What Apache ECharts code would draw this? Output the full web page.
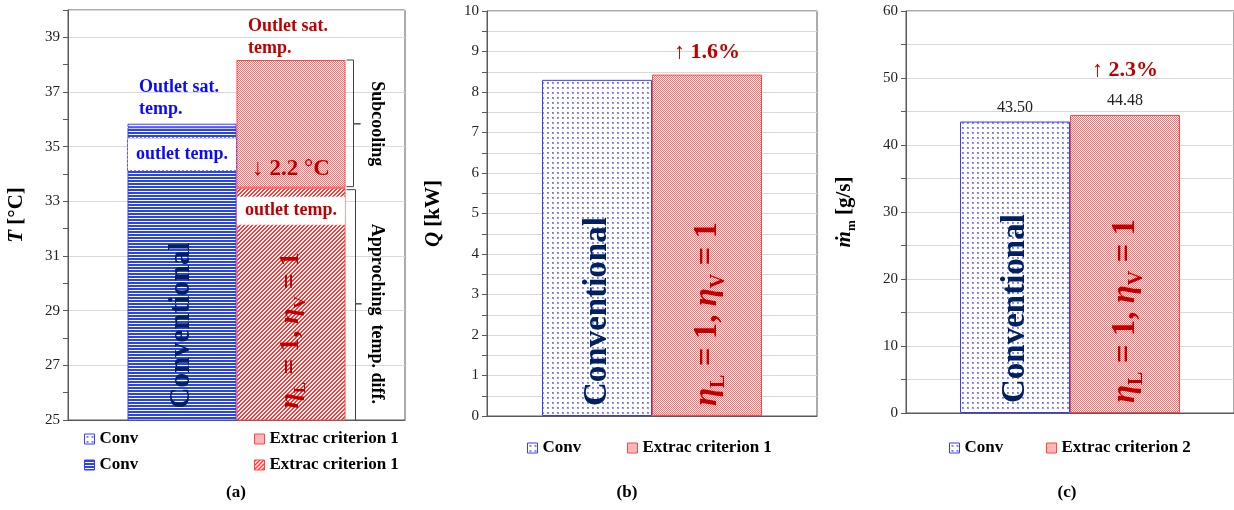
<!DOCTYPE html>
<html><head><meta charset="utf-8">
<script src="https://cdn.jsdelivr.net/npm/echarts@6/dist/echarts.min.js"></script>
<style>html,body{margin:0;padding:0;background:#fff}#c{width:1234px;height:510px}</style>
</head><body><div id="c"></div>
<script>
// ---------- data ----------
const categories = ['case'];
const legendA = ['Conv', 'Extrac criterion 1'];
const legendB = ['Conv', 'Extrac criterion 1'];
const legendC = ['Conv', 'Extrac criterion 2'];
const satTempA = [35.84, 38.17];      // outlet saturation temperature [°C]
const outletTempA = [35.71, 33.50];   // outlet temperature [°C]
const heatQ = [8.30, 8.43];           // Q [kW]
const massFlow = [43.50, 44.48];      // m [g/s]
const yTicksA = [25, 40, 2];
const yTicksB = [0, 10, 0.5];
const yTicksC = [0, 60, 5];
const barLabels = ['Conventional', 'ηL = 1, ηV = 1'];
const notesA = ['Outlet sat.\ntemp.', 'outlet temp.', '↓ 2.2 °C', 'Subcooling', 'Approching  temp. diff.'];
const changeB = '↑ 1.6%';
const changeC = '↑ 2.3%';
const captions = ['(a)', '(b)', '(c)'];

// ---------- styles ----------
const SERIF = '"Liberation Serif", "Times New Roman", serif';
const NAVY = '#002060', DRED = '#c00000', BLUE = '#0a0aff';
const BW_A = 109, BW_B = 110, BW_C = 110;

function pat(w, h, fn) {
  const c = document.createElement('canvas'); c.width = w; c.height = h;
  const g = c.getContext('2d'); g.fillStyle = '#fff'; g.fillRect(0, 0, w, h); fn(g);
  return { image: c, repeat: 'repeat' };
}
const P_BLUE_DOT = pat(5, 5, g => { g.fillStyle = '#9090ff'; g.fillRect(2, 2, 2, 2); g.fillStyle = '#6a6aff'; g.fillRect(2, 2, 1, 1); });
const P_RED_CHK = pat(2, 2, g => { g.fillStyle = '#ff7070'; g.fillRect(0, 0, 1, 1); g.fillRect(1, 1, 1, 1); });
const P_BLUE_STR = pat(4, 3, g => { g.fillStyle = '#2a45e6'; g.fillRect(0, 0, 4, 2); });
const P_RED_DIAG = pat(4, 4, g => { g.fillStyle = '#ff3838';
  for (let x = 0; x < 4; x++) for (let y = 0; y < 4; y++) if ((x + y) % 4 < 2) g.fillRect(x, y, 1, 1); });

const BLUE_BORDER = '#3b3bff', RED_BORDER = '#ff4545';

function yAxisBase(extra) {
  return Object.assign({
    type: 'value',
    axisLine: { show: true, lineStyle: { color: '#595959', width: 1 } },
    axisTick: { show: true, inside: false, length: 5, lineStyle: { color: '#595959' } },
    axisLabel: { color: '#222', fontFamily: SERIF, fontSize: 15, margin: 8 },
    splitLine: { show: true, lineStyle: { color: '#d9d9d9', width: 1 } },
    nameLocation: 'middle', nameRotate: 90
  }, extra);
}
function xAxisBase(gi) {
  return { type: 'category', gridIndex: gi, data: categories,
    axisLine: { show: true, lineStyle: { color: '#595959', width: 1 } },
    axisTick: { show: false }, axisLabel: { show: false }, splitLine: { show: false } };
}
function bar(o) {
  return Object.assign({ type: 'bar', barGap: '0%', stackStrategy: 'all', silent: true,
    emphasis: { disabled: true } }, o);
}
function bold(size, color, extra) {
  return Object.assign({ show: true, fontFamily: SERIF, fontWeight: 'bold', fontSize: size, color: color }, extra || {});
}
function etaLabel(F, dist) {
  const sub = Math.round(F * 0.62);
  const base = { fontFamily: SERIF, fontWeight: 'bold', color: DRED };
  return {
    show: true, position: 'insideBottom', rotate: 90, align: 'left', verticalAlign: 'middle', distance: dist,
    formatter: '{e|η}{s|L}{n| = 1, }{e|η}{s|V}{n| = 1}',
    rich: {
      e: Object.assign({ fontStyle: 'italic', fontSize: F, lineHeight: Math.round(F * 1.3) }, base),
      s: Object.assign({ fontSize: sub, lineHeight: sub, verticalAlign: 'bottom' }, base),
      n: Object.assign({ fontSize: F, lineHeight: Math.round(F * 1.3) }, base)
    }
  };
}
function convLabel(F, dist) {
  return bold(F, NAVY, { position: 'insideBottom', rotate: 90, align: 'left', verticalAlign: 'middle',
    distance: dist, formatter: barLabels[0] });
}
function satLabel(color, dist) {
  const lines = notesA[0].split('\n');
  return { show: true, position: 'top', distance: dist,
    formatter: lines.map(l => '{t|' + l + '}').join('\n'),
    rich: { t: { width: 86, align: 'left', fontFamily: SERIF, fontWeight: 'bold', fontSize: 18, lineHeight: 22, color: color } } };
}
const nA = [legendA[0], legendA[1], legendA[0] + ' ', legendA[1] + ' '];
const nB = [legendB[0] + '  ', legendB[1] + '  '];
const nC = [legendC[0] + '   ', legendC[1]];
const transparent = { color: 'rgba(0,0,0,0)' };

const series = [
  // ----- panel (a) -----
  bar({ name: nA[2], xAxisIndex: 0, yAxisIndex: 0, stack: 'ca', barWidth: BW_A, data: [outletTempA[0]],
    itemStyle: { color: P_BLUE_STR, borderColor: BLUE_BORDER, borderWidth: 1 }, label: convLabel(29, 12) }),
  bar({ name: 'lblA1', xAxisIndex: 0, yAxisIndex: 0, stack: 'ca', barWidth: BW_A, data: [0], itemStyle: transparent,
    label: bold(18, BLUE, { position: 'bottom', distance: 11, formatter: notesA[1], backgroundColor: '#fff',
      width: BW_A - 9, align: 'center', padding: [7, 4, 7, 4], borderColor: '#4455ff', borderWidth: 1, borderType: 'dotted' }) }),
  bar({ name: nA[0], xAxisIndex: 0, yAxisIndex: 0, stack: 'ca', barWidth: BW_A, data: [+(satTempA[0] - outletTempA[0]).toFixed(3)],
    itemStyle: { color: P_BLUE_DOT, borderColor: BLUE_BORDER, borderWidth: 1 } }),
  bar({ name: 'lblA2', xAxisIndex: 0, yAxisIndex: 0, stack: 'ca', barWidth: BW_A, data: [0], itemStyle: transparent,
    label: satLabel(BLUE, 3) }),

  bar({ name: nA[3], xAxisIndex: 0, yAxisIndex: 0, stack: 'ea', barWidth: BW_A, data: [outletTempA[1]],
    itemStyle: { color: P_RED_DIAG, borderColor: RED_BORDER, borderWidth: 1 }, label: etaLabel(28, 12) }),
  bar({ name: 'lblA3', xAxisIndex: 0, yAxisIndex: 0, stack: 'ea', barWidth: BW_A, data: [0], itemStyle: transparent,
    label: bold(18, DRED, { position: 'bottom', distance: 9, formatter: notesA[1], backgroundColor: '#fff',
      width: BW_A - 9, align: 'center', padding: [5, 4, 5, 4] }) }),
  bar({ name: nA[1], xAxisIndex: 0, yAxisIndex: 0, stack: 'ea', barWidth: BW_A, data: [+(satTempA[1] - outletTempA[1]).toFixed(3)],
    itemStyle: { color: P_RED_CHK, borderColor: RED_BORDER, borderWidth: 1 },
    label: bold(23, DRED, { position: 'insideBottom', distance: 7, formatter: notesA[2] }) }),
  bar({ name: 'lblA4', xAxisIndex: 0, yAxisIndex: 0, stack: 'ea', barWidth: BW_A, data: [0], itemStyle: transparent,
    label: satLabel(DRED, 1) }),
  {
    type: 'custom', xAxisIndex: 0, yAxisIndex: 0, silent: true, clip: false,
    data: [[0, satTempA[1], outletTempA[1], yTicksA[0]]],
    renderItem: function (params, api) {
      const top = api.coord([api.value(0), api.value(1)]);
      const y1 = top[1];
      const y2 = api.coord([api.value(0), api.value(2)])[1];
      const y3 = api.coord([api.value(0), api.value(3)])[1];
      const xb = top[0] + BW_A + 8;
      const m1 = (y1 + y2) / 2, m2 = (y2 + y3) / 2;
      const ls = { stroke: '#404040', lineWidth: 1, fill: null };
      const ts = (t) => ({ text: t, fontFamily: SERIF, fontWeight: 'bold', fontSize: 18, fill: '#000', align: 'center', verticalAlign: 'middle' });
      return { type: 'group', children: [
        { type: 'polyline', shape: { points: [[xb - 7, y1], [xb, y1], [xb, m1], [xb + 7, m1], [xb, m1], [xb, y2 - 1], [xb - 7, y2 - 1]] }, style: ls },
        { type: 'polyline', shape: { points: [[xb - 7, y2 + 2], [xb + 2, y2 + 2], [xb + 2, m2], [xb + 8, m2], [xb + 2, m2], [xb + 2, y3]] }, style: ls },
        { type: 'text', x: xb + 23, y: m1, rotation: -Math.PI / 2, style: ts(notesA[3]) },
        { type: 'text', x: xb + 23, y: m2 + 10, rotation: -Math.PI / 2, style: ts(notesA[4]) }
      ] };
    }
  },

  // ----- panel (b) -----
  bar({ name: nB[0], xAxisIndex: 1, yAxisIndex: 2, stack: 'cb', barWidth: BW_B, data: [heatQ[0]],
    itemStyle: { color: P_BLUE_DOT, borderColor: BLUE_BORDER, borderWidth: 1 }, label: convLabel(33, 10) }),
  bar({ name: nB[1], xAxisIndex: 1, yAxisIndex: 2, stack: 'eb', barWidth: BW_B, data: [heatQ[1]],
    itemStyle: { color: P_RED_CHK, borderColor: RED_BORDER, borderWidth: 1 }, label: etaLabel(33, 10) }),
  bar({ name: 'lblB', xAxisIndex: 1, yAxisIndex: 2, stack: 'eb', barWidth: BW_B, data: [0], itemStyle: transparent,
    label: bold(22, DRED, { position: 'top', distance: 11, formatter: changeB }) }),

  // ----- panel (c) -----
  bar({ name: nC[0], xAxisIndex: 2, yAxisIndex: 3, stack: 'cc', barWidth: BW_C, data: [massFlow[0]],
    itemStyle: { color: P_BLUE_DOT, borderColor: BLUE_BORDER, borderWidth: 1 }, label: convLabel(33, 10) }),
  bar({ name: 'lblC1', xAxisIndex: 2, yAxisIndex: 3, stack: 'cc', barWidth: BW_C, data: [0], itemStyle: transparent,
    label: { show: true, position: 'top', distance: 1, formatter: massFlow[0].toFixed(2),
      fontFamily: SERIF, fontSize: 16, lineHeight: 26, color: '#222' } }),
  bar({ name: nC[1], xAxisIndex: 2, yAxisIndex: 3, stack: 'ec', barWidth: BW_C, data: [massFlow[1]],
    itemStyle: { color: P_RED_CHK, borderColor: RED_BORDER, borderWidth: 1 }, label: etaLabel(33, 10) }),
  bar({ name: 'lblC2', xAxisIndex: 2, yAxisIndex: 3, stack: 'ec', barWidth: BW_C, data: [0], itemStyle: transparent,
    label: { show: true, position: 'top', distance: 1, formatter: '{p|' + changeC + '}\n{v|' + massFlow[1].toFixed(2) + '}',
      rich: { p: { fontFamily: SERIF, fontWeight: 'bold', fontSize: 22, lineHeight: 36, color: DRED },
              v: { fontFamily: SERIF, fontSize: 16, lineHeight: 26, color: '#222' } } } })
];

function leg(name, left, cy) {
  return { data: [name], left: left, top: cy - 8.5, padding: 0, itemWidth: 10, itemHeight: 10, icon: 'rect',
    selectedMode: false, formatter: n => n.trim(), itemStyle: { borderWidth: 1 },
    textStyle: { fontFamily: SERIF, fontWeight: 'bold', fontSize: 17, color: '#000' } };
}
function cap(t, cx) {
  return { text: t, left: cx, top: 484, padding: 0, textAlign: 'center',
    textStyle: { fontFamily: SERIF, fontWeight: 'bold', fontSize: 17, color: '#000' } };
}
const nameRich = (size) => ({
  i: { fontFamily: SERIF, fontStyle: 'italic', fontWeight: 'bold', fontSize: size, color: '#000', lineHeight: 26 },
  n: { fontFamily: SERIF, fontWeight: 'bold', fontSize: size, color: '#000', lineHeight: 26 },
  s: { fontFamily: SERIF, fontWeight: 'bold', fontSize: Math.round(size * 0.62), color: '#000', lineHeight: 12, verticalAlign: 'bottom' }
});

const option = {
  animation: false,
  backgroundColor: '#fff',
  title: [cap(captions[0], 236), cap(captions[1], 627), cap(captions[2], 1067)],
  legend: [
    leg(nA[0], 84, 439), leg(nA[1], 254, 439), leg(nA[2], 84, 465), leg(nA[3], 254, 465),
    leg(nB[0], 527, 448), leg(nB[1], 627, 448),
    leg(nC[0], 949, 448), leg(nC[1], 1046, 448)
  ],
  grid: [
    { left: 68, top: 10, width: 337, height: 410, show: true, borderColor: '#595959', borderWidth: 1, backgroundColor: 'transparent' },
    { left: 487, top: 11, width: 330, height: 405, show: true, borderColor: '#595959', borderWidth: 1, backgroundColor: 'transparent' },
    { left: 906, top: 11, width: 332, height: 402, show: true, borderColor: '#595959', borderWidth: 1, backgroundColor: 'transparent' }
  ],
  xAxis: [xAxisBase(0), xAxisBase(1), xAxisBase(2)],
  yAxis: [
    yAxisBase({ gridIndex: 0, min: yTicksA[0], max: yTicksA[1], interval: yTicksA[2],
      axisLabel: { color: '#222', fontFamily: SERIF, fontSize: 15, margin: 8, showMaxLabel: false },
      name: '{i|T}{n| [°C]}', nameGap: 38, nameTextStyle: { rich: nameRich(21) } }),
    yAxisBase({ gridIndex: 0, min: yTicksA[0], max: yTicksA[1], interval: 1, position: 'left',
      axisLine: { show: false }, axisLabel: { show: false }, splitLine: { show: false } }),
    yAxisBase({ gridIndex: 1, min: yTicksB[0], max: yTicksB[1], interval: yTicksB[2],
      axisLabel: { color: '#222', fontFamily: SERIF, fontSize: 15, margin: 8,
        formatter: v => (Math.abs(v - Math.round(v)) < 1e-9 ? String(Math.round(v)) : '') },
      name: '{i|Q}{n| [kW]}', nameGap: 40, nameTextStyle: { rich: nameRich(21) } }),
    yAxisBase({ gridIndex: 2, min: yTicksC[0], max: yTicksC[1], interval: yTicksC[2],
      axisLabel: { color: '#222', fontFamily: SERIF, fontSize: 15, margin: 8,
        formatter: v => (v % 10 === 0 ? String(v) : '') },
      name: '{i|ṁ}{s|m}{n| [g/s]}', nameGap: 48, nameTextStyle: { rich: nameRich(21) } })
  ],
  series: series
};
const chart = echarts.init(document.getElementById('c'), null, { renderer: 'canvas' });
chart.setOption(option);
</script></body></html>
